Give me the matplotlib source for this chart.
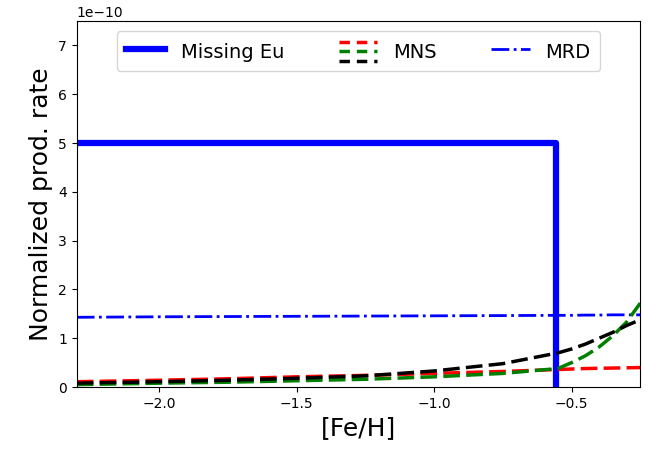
import numpy as np
import matplotlib.pyplot as plt
from matplotlib.lines import Line2D
from matplotlib.legend_handler import HandlerBase
from matplotlib.ticker import MultipleLocator

# [Fe/H] grid and production rates (units of 1e-10)
feh = [-2.3, -2.0, -1.75, -1.5, -1.25, -1.0, -0.75, -0.55, -0.5, -0.45, -0.4, -0.35, -0.3, -0.25]
mns_red = [0.11, 0.14, 0.17, 0.21, 0.24, 0.28, 0.32, 0.36, 0.37, 0.38, 0.385, 0.39, 0.395, 0.40]
mns_green = [0.05, 0.08, 0.10, 0.13, 0.16, 0.21, 0.28, 0.38, 0.50, 0.64, 0.82, 1.05, 1.33, 1.72]
mns_black = [0.08, 0.11, 0.14, 0.18, 0.23, 0.33, 0.48, 0.70, 0.78, 0.88, 1.00, 1.12, 1.26, 1.38]
mrd = [1.43, 1.44, 1.445, 1.45, 1.455, 1.46, 1.465, 1.47, 1.47, 1.475, 1.475, 1.48, 1.48, 1.48]

# missing Eu step
eu_level = 5.0
eu_cut = -0.555

SCALE = 1e-10
DASH = (4.8, 1.8)


class StackedDashes(HandlerBase):
    """Draw one short dashed line per colour, stacked vertically."""
    def __init__(self, colors, **kw):
        HandlerBase.__init__(self, **kw)
        self.colors = colors

    def create_artists(self, legend, orig_handle, xdescent, ydescent,
                       width, height, fontsize, trans):
        arts = []
        n = len(self.colors)
        for i, c in enumerate(self.colors):
            y = height * (0.75 - 0.9 * i / (n - 1))
            ln = Line2D([0, width], [y, y], color=c, ls='--', dashes=(3.0, 2.0), lw=2.5)
            ln.set_transform(trans)
            arts.append(ln)
        return arts


fig = plt.figure(figsize=(6.56, 4.57), dpi=100)
ax = fig.add_axes([0.117, 0.153, 0.859, 0.801])

x = np.array(feh)
ax.plot([x[0], eu_cut, eu_cut], [eu_level * SCALE, eu_level * SCALE, 0],
        color='blue', lw=4.5)
ax.plot(x, np.array(mrd) * SCALE, color='blue', ls='-.', lw=2)
ax.plot(x, np.array(mns_red) * SCALE, color='red', ls='--', dashes=DASH, lw=2.5)
ax.plot(x, np.array(mns_green) * SCALE, color='green', ls='--', dashes=DASH, lw=2.5)
ax.plot(x, np.array(mns_black) * SCALE, color='black', ls='--', dashes=DASH, lw=2.5)

ax.set_xlim(-2.3, -0.25)
ax.set_ylim(0, 7.5e-10)
ax.xaxis.set_major_locator(MultipleLocator(0.5))
ax.set_xlabel('[Fe/H]', fontsize=18)
ax.set_ylabel('Normalized prod. rate', fontsize=18)

h_eu = Line2D([], [], color='blue', lw=4.5)
h_mns = Line2D([], [], color='red', ls='--')
h_mrd = Line2D([], [], color='blue', ls='-.', lw=2)
ax.legend([h_eu, h_mns, h_mrd], ['Missing Eu', 'MNS', 'MRD'],
          loc='upper center', ncol=3, fontsize=14, columnspacing=2.8,
          handleheight=1.3, borderpad=0.5,
          handler_map={h_mns: StackedDashes(['red', 'green', 'black'])})

fig.savefig('out.png', dpi=100)
